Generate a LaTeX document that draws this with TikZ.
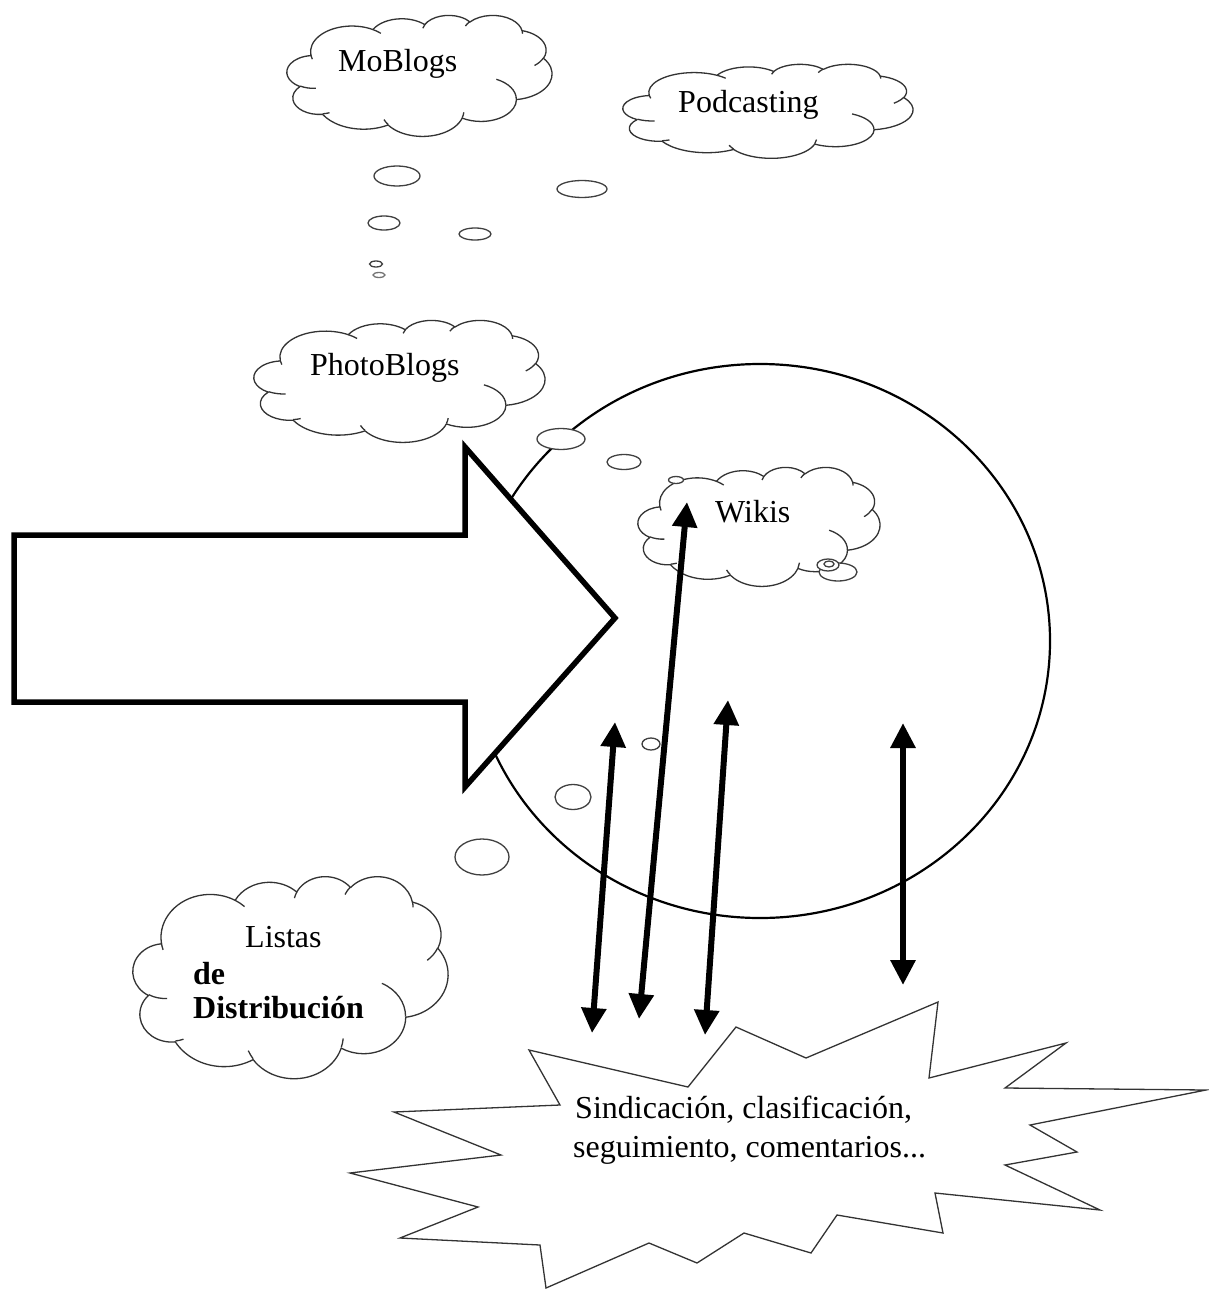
\documentclass[tikz,border=0pt]{standalone}
\usepackage{fontspec}
\setmainfont{Liberation Serif}
\usetikzlibrary{arrows.meta}

\tikzset{
  declare function={vp(\pT,\pA,\pB)=\pT+mod(atan2(\pA*sin(\pT),\pB*cos(\pT))-\pT+540,360)-180;},
  cloudshape/.style={draw=black!80, line width=1.3pt, fill=white, line join=round},
  cloudin/.style={draw=black!80, line width=1.3pt},
  bubble/.style={draw=black!75, line width=1.3pt, fill=white},
  bigarrow/.style={draw=black, line width=5.5pt, fill=white, line join=miter},
  twoway/.style={line width=6pt, {Triangle[width=24pt,length=25pt]}-{Triangle[width=24pt,length=25pt]}},
  lbl/.style={font=\fontsize{32}{36}\selectfont, inner sep=0pt, anchor=base west},
  boldlbl/.style={lbl, font=\fontsize{32}{36}\selectfont\bfseries},
  burst/.style={draw=black!80, line width=1.3pt, fill=white, line join=miter},
  bigcircle/.style={draw=black, line width=2.2pt},
}

\newcommand\DA[4]{arc[start angle={vp(#3,#1,#2)}, end angle={vp(#3+#4,#1,#2)}, x radius=#1, y radius=#2]}

\newcommand\drawcloud[4]{%
  \pgfmathsetmacro\cwx{#3/432}%
  \pgfmathsetmacro\cwy{#4/432}%
  \begin{scope}[shift={(#1,#2)}, x=\cwx pt, y=-\cwy pt]
    \path[cloudshape] (39.00,143.70)
      \DA{67.53}{91.90}{-190.4875}{123.7805}
      \DA{53.33}{72.67}{-144.1024}{89.9452}
      \DA{43.65}{59.45}{-145.8079}{99.7230}
      \DA{48.57}{65.95}{-130.9861}{117.2417}
      \DA{53.33}{72.73}{-78.7089}{109.0269}
      \DA{67.75}{92.20}{-46.2673}{130.2690}
      \DA{57.85}{78.67}{0.6250}{114.0333}
      \DA{67.52}{92.15}{22.4516}{115.1726}
      \DA{77.20}{105.43}{66.2426}{75.7110}
      \DA{43.60}{59.18}{-274.9421}{146.7356}
      \DA{43.45}{59.45}{-246.8285}{152.5189} -- cycle;
    \draw[cloudin] (46.93,261.77) \DA{43.45}{59.45}{86.7420}{26.4295}
      (69.28,348.99) \DA{43.60}{59.18}{73.6105}{11.4475}
      (164.78,390.90) \DA{67.52}{92.15}{137.6242}{14.0811}
      (288.27,347.51) \DA{67.52}{92.15}{6.4533}{15.9984}
      (341.29,229.54) \DA{57.85}{78.67}{-70.2924}{70.9174}
      (417.98,153.54) \DA{53.33}{72.73}{30.3180}{27.7515}
      (383.24,54.26) \DA{48.57}{65.95}{-13.7443}{14.8589}
      (290.78,39.52) \DA{48.57}{65.95}{-149.1815}{18.1954}
      (221.41,47.20) \DA{43.65}{59.45}{-163.4943}{17.6864}
      (140.00,51.92) \DA{67.53}{91.90}{-66.7070}{12.3194}
      (41.27,157.89) \DA{67.53}{91.90}{157.6544}{11.8582};
  \end{scope}}

\begin{document}
\begin{tikzpicture}[x=1pt, y=-1pt]
  \fill[white] (0,0) rectangle (1208,1292);
  \useasboundingbox (0,0) rectangle (1208,1292);

  % top clouds
  \drawcloud{287}{15}{265}{121}
  \drawcloud{623}{64}{290}{94}
  \drawcloud{254}{320}{291}{122}

  % thought bubbles (top)
  \draw[bubble] (397,176) ellipse [x radius=23, y radius=10];
  \draw[bubble] (582,189) ellipse [x radius=25, y radius=8.5];
  \draw[bubble] (384,223) ellipse [x radius=16, y radius=7];
  \draw[bubble] (475,234) ellipse [x radius=16, y radius=6];
  \draw[bubble] (376,264) ellipse [x radius=6.5, y radius=3];
  \draw[bubble, draw=black!55] (379,275) ellipse [x radius=6, y radius=2.5];

  % big circle
  \draw[bigcircle] (760,641) ellipse [x radius=290, y radius=277];

  % bubbles over circle
  \draw[bubble] (561,439) ellipse [x radius=24, y radius=10.5];
  \draw[bubble] (624,462) ellipse [x radius=17, y radius=7.5];
  \draw[bubble] (651,744) ellipse [x radius=9, y radius=6];
  \draw[bubble] (573,797) ellipse [x radius=18, y radius=12.5];
  \draw[bubble] (482,857) ellipse [x radius=27, y radius=18];

  % Wikis cloud
  \drawcloud{638}{467}{242}{119}
  \draw[bubble] (676,480) ellipse [x radius=7.5, y radius=3.5];
  \draw[bubble] (838,572) ellipse [x radius=19, y radius=9];
  \draw[bubble] (828,565) ellipse [x radius=11, y radius=6];
  \draw[bubble] (829,564) ellipse [x radius=5, y radius=3];

  % Listas cloud
  \drawcloud{133}{876}{315}{202}

  % big arrow
  \draw[bigarrow] (14,535) -- (465,535) -- (465,447) -- (615,618) -- (465,787) -- (465,702) -- (14,702) -- cycle;

  % starburst
  \draw[burst] (529,1050) -- (688,1087) -- (736,1027) -- (806,1058) -- (938,1002)
    -- (929,1078) -- (1066,1043) -- (1005,1088) -- (1206,1090) -- (1030,1125)
    -- (1077,1152) -- (1005,1165) -- (1100,1210) -- (935,1193) -- (943,1233)
    -- (837,1215) -- (811,1253) -- (744,1233) -- (697,1263) -- (649,1243)
    -- (546,1288) -- (540,1245) -- (400,1238) -- (478,1207) -- (350,1173)
    -- (501,1155) -- (394,1112) -- (560,1105) -- cycle;

  % labels
  \node[lbl] (moblogs) at (338,72) {MoBlogs};
  \node[lbl] (podcasting) at (678,113) {Podcasting};
  \node[lbl] (photoblogs) at (310,375) {PhotoBlogs};
  \node[lbl] (wikis) at (715,522) {Wikis};
  \node[lbl] (listas) at (245,947) {Listas};
  \node[boldlbl] (de) at (193,984) {de};
  \node[boldlbl] (distrib) at (193,1018) {Distribución};
  \node[lbl] (sind1) at (575,1118) {Sindicación, clasificación,};
  \node[lbl] (sind2) at (573,1157) {seguimiento, comentarios...};

  % two-way arrows
  \coordinate (a1t) at (615,722);  \coordinate (a1b) at (592,1033);
  \coordinate (a2t) at (687,502);  \coordinate (a2b) at (639,1019);
  \coordinate (a3t) at (728,700);  \coordinate (a3b) at (705,1035);
  \coordinate (a4t) at (903,723);  \coordinate (a4b) at (903,985);
  \draw[twoway] (a1b) -- (a1t);
  \draw[twoway] (a2b) -- (a2t);
  \draw[twoway] (a3b) -- (a3t);
  \draw[twoway] (a4b) -- (a4t);
\end{tikzpicture}
\end{document}
